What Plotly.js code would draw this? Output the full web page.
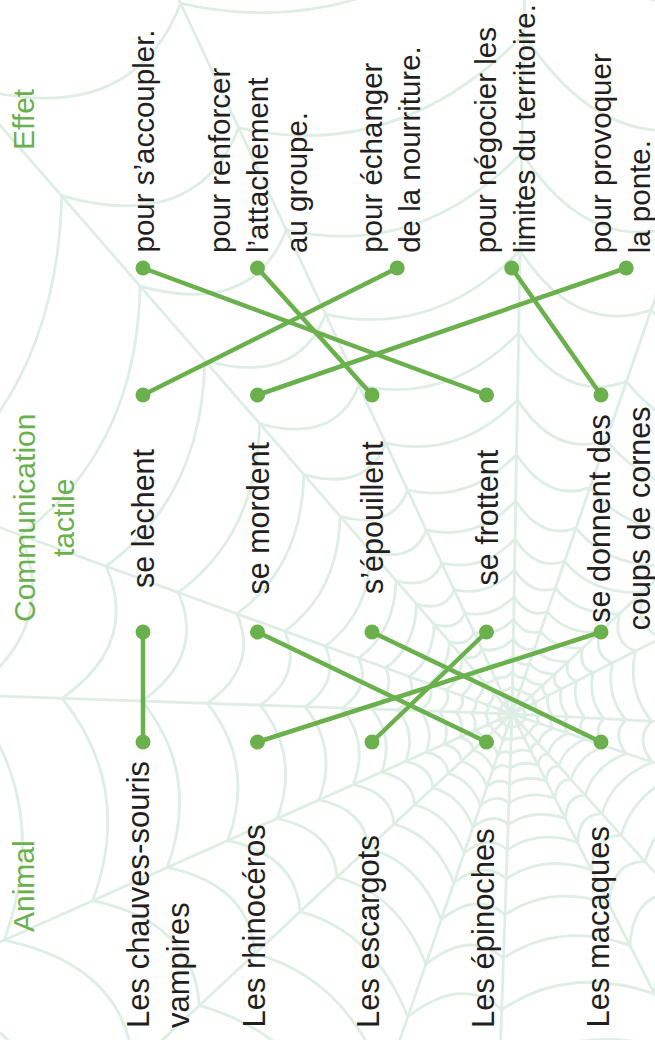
<!DOCTYPE html>
<html><head><meta charset="utf-8">
<script src="https://cdn.plot.ly/plotly-3.0.1.min.js"></script>
<style>html,body{margin:0;padding:0;background:#fff}#chart{width:655px;height:1040px}</style>
</head><body><div id="chart"></div>
<script>
// ---- data ----
const headers = ["Animal", "Communication<br>tactile", "Effet"];
const animals = ["Les chauves-souris<br>vampires", "Les rhinocéros", "Les escargots", "Les épinoches", "Les macaques"];
const communications = ["se lèchent", "se mordent", "s’épouillent", "se frottent", "se donnent des<br>coups de cornes"];
const effects = ["pour s’accoupler.", "pour renforcer<br>l’attachement<br>au groupe.", "pour échanger<br>de la nourriture.", "pour négocier les<br>limites du territoire.", "pour provoquer<br>la ponte."];
const animalToComm = [0, 4, 3, 1, 2];   // index of communication matched by each animal
const commToEffect = [2, 4, 1, 0, 3];   // index of effect matched by each communication

// ---- layout constants ----
const W = 655, H = 1040;
const ROW0 = 143, ROWSTEP = 114.5;
const xRange = [-ROW0 / ROWSTEP, (W - ROW0) / ROWSTEP];
const STAGE = {animalDot: 742, commIn: 632, commOut: 395, effectDot: 268,
               animalText: 1028, commText: 518, effectText: 253};
const GREEN = '#6ab04c', INK = '#231f20', WEB = '#deeee4';
const FONT = 'Liberation Sans, Arial, Helvetica, sans-serif';
const nLines = s => s.split('<br>').length;
const effectDotShift = s => nLines(s) === 2 ? 0.22 : 0;
const effectTextShift = s => nLines(s) === 2 ? 0.16 : 0;
const multiShift = (s, k) => (nLines(s) - 1) * k;

// ---- connection lines ----
const lx = [], ly = [];
animals.forEach((a, i) => { lx.push(i, animalToComm[i], null); ly.push(STAGE.animalDot, STAGE.commIn, null); });
communications.forEach((c, j) => {
  const e = commToEffect[j];
  lx.push(j, e + effectDotShift(effects[e]), null); ly.push(STAGE.commOut, STAGE.effectDot, null);
});
const dx = [], dy = [];
animals.forEach((a, i) => { dx.push(i); dy.push(STAGE.animalDot); });
communications.forEach((c, j) => { dx.push(j, j); dy.push(STAGE.commIn, STAGE.commOut); });
effects.forEach((e, k) => { dx.push(k + effectDotShift(e)); dy.push(STAGE.effectDot); });

const traces = [
  {x: lx, y: ly, mode: 'lines', line: {color: GREEN, width: 4.5}, hoverinfo: 'skip', showlegend: false},
  {x: dx, y: dy, mode: 'markers', marker: {color: GREEN, size: 15}, hoverinfo: 'skip', showlegend: false}
];

// ---- labels ----
const ann = [];
const base = {textangle: -90, showarrow: false, borderpad: 0, borderwidth: 0, xref: 'x', yref: 'y',
              font: {family: FONT, size: 31, color: INK}};
animals.forEach((a, i) => ann.push(Object.assign({}, base, {text: a, x: i - 0.03 + multiShift(a, 0.165), y: STAGE.animalText,
  xanchor: 'center', yanchor: 'bottom', align: 'left'})));
communications.forEach((c, j) => ann.push(Object.assign({}, base, {text: c, x: j + multiShift(c, 0.16), y: STAGE.commText,
  xanchor: 'center', yanchor: 'middle', align: 'center', font: {family: FONT, size: 30.5, color: INK}})));
effects.forEach((e, k) => ann.push(Object.assign({}, base, {text: e, x: k + effectTextShift(e), y: STAGE.effectText,
  xanchor: 'center', yanchor: 'bottom', align: 'left', font: {family: FONT, size: 29.5, color: INK}})));
const headerPos = [[23, 886], [44, 518], [23, 119]];
headers.forEach((h, n) => ann.push(Object.assign({}, base, {text: h, xref: 'paper', x: headerPos[n][0] / W,
  y: headerPos[n][1], xanchor: 'center', yanchor: 'middle', align: 'center',
  font: {family: FONT, size: 30, color: GREEN}})));

// ---- decorative spider web background ----
const fx = x => (x / W).toFixed(4), fy = y => (1 - y / H).toFixed(4);
const cx = 512, cy = 714;
const spokeDeg = [0, 21, 44, 66, 90, 113, 134, 157, 180, 203, 225, 247, 270, 292, 315, 337];
const spokeJit = [3, -2, 4, -3, 2, -4, 3, -1, 2, -3, 4, -2, 1, -3, 2, -4];
const spokeFac = [1, 1.06, 0.96, 1.03, 0.97, 1.05, 0.95, 1.02, 1, 0.96, 1.04, 0.98, 1.03, 0.95, 1.05, 0.99];
const rings = [14, 27, 41, 56, 73, 92, 114, 140, 170, 207, 252, 305, 370, 450, 545, 660, 800];
const ang = spokeDeg.map((d, i) => (d + spokeJit[i]) * Math.PI / 180);
const shapes = [];
let sp = '';
ang.forEach(a => { sp += `M${fx(cx)},${fy(cy)} L${fx(cx + 1300 * Math.cos(a))},${fy(cy + 1300 * Math.sin(a))} `; });
shapes.push({type: 'path', path: sp, xref: 'paper', yref: 'paper', layer: 'below', line: {color: WEB, width: 2.8}});
rings.forEach(r => {
  let p = '';
  for (let s = 0; s < ang.length; s++) {
    const t = (s + 1) % ang.length;
    const r1 = r * spokeFac[s], r2 = r * spokeFac[t];
    const x1 = cx + r1 * Math.cos(ang[s]), y1 = cy + r1 * Math.sin(ang[s]);
    const x2 = cx + r2 * Math.cos(ang[t]), y2 = cy + r2 * Math.sin(ang[t]);
    const mx = (x1 + x2) / 2, my = (y1 + y2) / 2;
    const qx = cx + (mx - cx) * 0.87, qy = cy + (my - cy) * 0.87;
    p += `M${fx(x1)},${fy(y1)} Q${fx(qx)},${fy(qy)} ${fx(x2)},${fy(y2)} `;
  }
  shapes.push({type: 'path', path: p, xref: 'paper', yref: 'paper', layer: 'below', line: {color: WEB, width: 2.8}});
});

const layout = {
  width: W, height: H, margin: {l: 0, r: 0, t: 0, b: 0},
  paper_bgcolor: '#fff', plot_bgcolor: 'rgba(0,0,0,0)',
  xaxis: {range: xRange, visible: false, fixedrange: true},
  yaxis: {range: [H, 0], visible: false, fixedrange: true},
  annotations: ann, shapes: shapes, showlegend: false
};
Plotly.newPlot('chart', traces, layout, {staticPlot: true, displayModeBar: false});
</script></body></html>
